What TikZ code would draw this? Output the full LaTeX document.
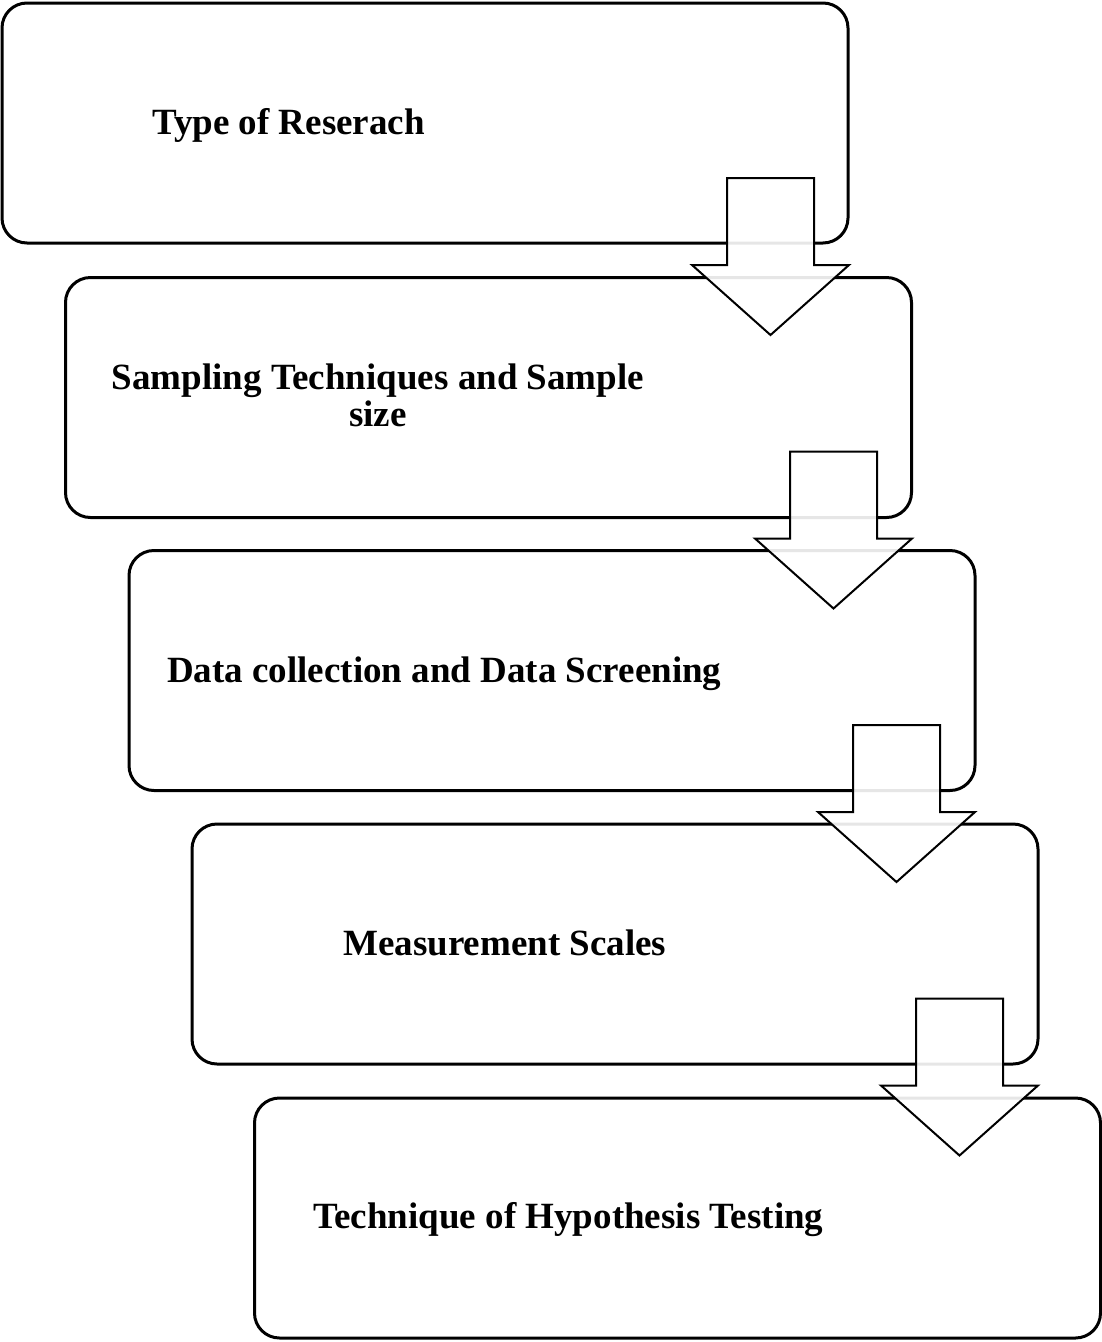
\documentclass[tikz,border=0pt]{standalone}
\usepackage{fontspec}
\setmainfont{Liberation Serif}
\begin{document}
\begin{tikzpicture}[x=1pt,y=-1pt,
  stagebox/.style={draw=black, line width=3pt, rounded corners=25pt, fill=white,
    minimum width=846pt, minimum height=240pt, inner sep=0pt},
  stagetext/.style={font=\fontsize{37}{37}\selectfont\bfseries, inner sep=0pt},
  blockarrow/.style={draw=black, line width=2pt, fill=white, fill opacity=0.9, line join=miter}]
\useasboundingbox (0,0) rectangle (1102,1342);

% stage boxes
\node[stagebox] (b1) at (425,123) {};
\node[stagebox] (b2) at (488.5,397.5) {};
\node[stagebox] (b3) at (552,670.5) {};
\node[stagebox] (b4) at (615,944) {};
\node[stagebox] (b5) at (677.5,1218) {};

% stage labels (the two-line label sits on the baseline of its last line)
\node[stagetext, anchor=base west] (t1) at (152,134) {Type of Reserach};
\node[stagetext, align=center, anchor=base] (t2) at (378,426) {Sampling Techniques and Sample\\size};
\node[stagetext, anchor=base west] (t3) at (167,682) {Data collection and Data Screening};
\node[stagetext, anchor=base west] (t4) at (343,955) {Measurement Scales};
\node[stagetext, anchor=base west] (t5) at (313,1228) {Technique of Hypothesis Testing};

% block arrows between stages
\foreach \i in {0,1,2,3}{
  \pgfmathsetmacro{\dx}{63*\i}
  \pgfmathsetmacro{\dy}{273.5*\i}
  \draw[blockarrow] (727+\dx,178+\dy) -- (814+\dx,178+\dy) -- (814+\dx,265+\dy)
    -- (849+\dx,265+\dy) -- (770.5+\dx,335+\dy) -- (692+\dx,265+\dy)
    -- (727+\dx,265+\dy) -- cycle;
}
\end{tikzpicture}
\end{document}
